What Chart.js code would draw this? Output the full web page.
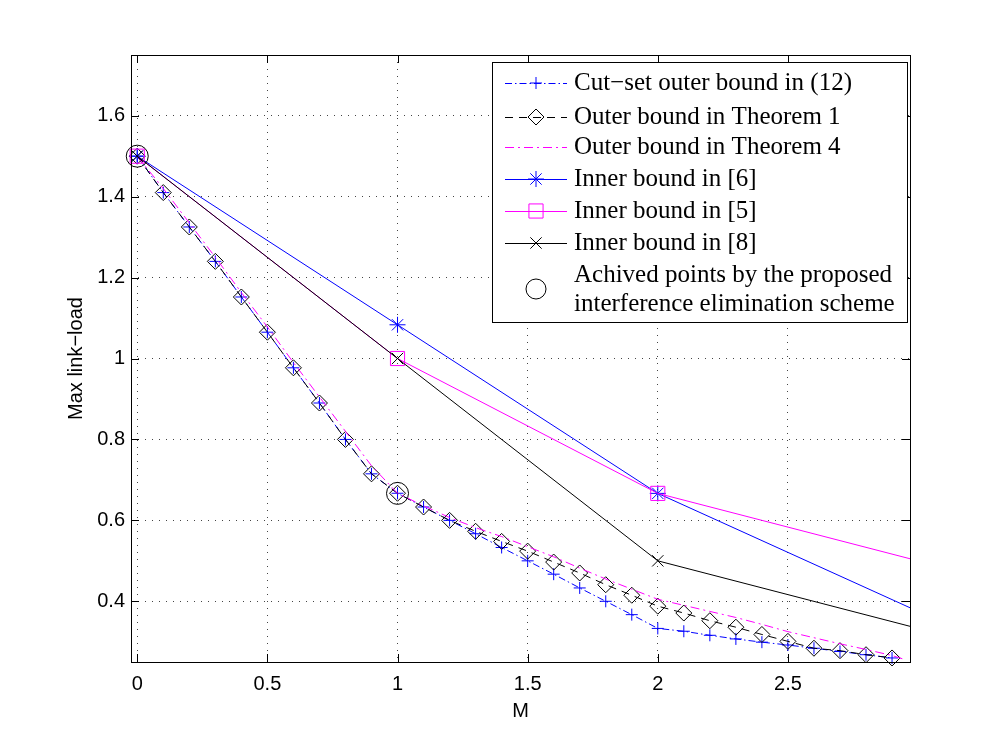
<!DOCTYPE html>
<html>
<head>
<meta charset="utf-8">
<script src="https://cdn.jsdelivr.net/npm/chart.js@4/dist/chart.umd.min.js"></script>
<style>
  html, body { margin: 0; padding: 0; background: #fff; }
  #wrap { width: 1005px; height: 744px; }
</style>
</head>
<body>
<div id="wrap"><canvas id="chart" width="1005" height="744"></canvas></div>
<script>
// values
var mFine = [0, 0.1, 0.2, 0.3, 0.4, 0.5, 0.6, 0.7, 0.8, 0.9, 1.0, 1.1, 1.2, 1.3, 1.4,
             1.5, 1.6, 1.7, 1.8, 1.9, 2.0, 2.1, 2.2, 2.3, 2.4, 2.5, 2.6, 2.7, 2.8, 2.9];
var cutSet = [1.5, 1.41, 1.325, 1.24, 1.152, 1.065, 0.977, 0.89, 0.80, 0.715, 0.667, 0.633, 0.600, 0.567, 0.533,
              0.500, 0.467, 0.433, 0.400, 0.367, 0.333, 0.326, 0.316, 0.307, 0.299, 0.292, 0.284, 0.276, 0.268, 0.260];
var theorem1 = [1.5, 1.41, 1.325, 1.24, 1.152, 1.065, 0.977, 0.89, 0.80, 0.715, 0.667, 0.633, 0.600, 0.573, 0.548,
                0.524, 0.497, 0.470, 0.441, 0.415, 0.388, 0.371, 0.352, 0.336, 0.318, 0.301, 0.284, 0.278, 0.268, 0.260];
var mThm4 = [0, 0.1, 0.2, 0.3, 0.4, 0.5, 0.6, 0.7, 0.8, 0.9, 1.0, 1.1, 1.2, 1.3, 1.4,
             1.5, 1.6, 1.7, 1.8, 1.9, 2.0, 2.1, 2.2, 2.3, 2.4, 2.5, 2.6, 2.7, 2.8, 2.9, 2.95];
var theorem4 = [1.5, 1.42, 1.335, 1.25, 1.163, 1.078, 0.99, 0.905, 0.82, 0.735, 0.667, 0.636, 0.607, 0.582, 0.560,
                0.535, 0.510, 0.482, 0.455, 0.430, 0.405, 0.390, 0.375, 0.360, 0.343, 0.325, 0.310, 0.295, 0.281, 0.266, 0.256];
var mCoarse = [0, 1, 2, 3];
var inner6 = [1.5, 1.0833, 0.6667, 0.375];
var inner5 = [1.5, 1.0, 0.6667, 0.5];
var inner8 = [1.5, 1.0, 0.5, 0.333];
var mAchieved = [0, 1];
var achieved = [1.5, 0.6667];

var xTicks = [0, 0.5, 1, 1.5, 2, 2.5];
var yTicks = [0.4, 0.6, 0.8, 1, 1.2, 1.4, 1.6];

var labels = ['Cut\u2212set outer bound in (12)', 'Outer bound in Theorem 1', 'Outer bound in Theorem 4',
              'Inner bound in [6]', 'Inner bound in [5]', 'Inner bound in [8]',
              'Achived points by the proposed', 'interference elimination scheme'];

function pts(xs, ys) {
    return xs.map(function(x, i) { return {x: x, y: ys[i]}; });
}

var BLUE = '#0000ff', MAG = '#ff00ff', BLACK = '#000000';
var tickFont = {family: "'Liberation Sans Narrow', 'Liberation Sans', Arial, sans-serif", size: 20};
var clipR = {left: 20, top: 20, right: 0, bottom: 20};

var colors = [BLUE, BLACK, MAG, BLUE, MAG, BLACK, BLACK];
var dashes = [[7, 3, 1.5, 3], [8, 6], [9, 4, 2, 4], [], [], [], []];
var styles = ['cross', 'rectRot', 'circle', 'star', 'rect', 'crossRot', 'circle'];
var radii = [6, 8, 0, 8, 10, 8, 11];

var sets = [
    {data: pts(mFine, cutSet), order: 7},
    {data: pts(mFine, theorem1), order: 6},
    {data: pts(mThm4, theorem4), order: 5},
    {data: pts(mCoarse, inner6), order: 4},
    {data: pts(mCoarse, inner5), order: 3},
    {data: pts(mCoarse, inner8), order: 2},
    {data: pts(mAchieved, achieved), showLine: false, order: 1}
];
sets.forEach(function(s, i) {
    s.borderColor = colors[i];
    s.borderDash = dashes[i];
    s.pointStyle = styles[i];
    s.pointRadius = radii[i];
    s.pointHoverRadius = radii[i];
    s.pointBorderColor = colors[i];
    s.pointBackgroundColor = 'rgba(0,0,0,0)';
    s.backgroundColor = 'rgba(0,0,0,0)';
    s.borderWidth = 1;
    s.pointBorderWidth = 1;
    if (s.showLine === undefined) s.showLine = true;
    s.tension = 0;
    s.clip = clipR;
});

function marker(ctx, style, x, y, r, color) {
    ctx.save();
    ctx.strokeStyle = color;
    ctx.lineWidth = 1;
    ctx.setLineDash([]);
    ctx.beginPath();
    var d = r * Math.SQRT1_2;
    if (style === 'cross' || style === 'star') {
        ctx.moveTo(x - r, y); ctx.lineTo(x + r, y);
        ctx.moveTo(x, y - r); ctx.lineTo(x, y + r);
    }
    if (style === 'crossRot' || style === 'star') {
        ctx.moveTo(x - d, y - d); ctx.lineTo(x + d, y + d);
        ctx.moveTo(x - d, y + d); ctx.lineTo(x + d, y - d);
    }
    if (style === 'rectRot') {
        ctx.moveTo(x, y - r); ctx.lineTo(x + r, y); ctx.lineTo(x, y + r); ctx.lineTo(x - r, y); ctx.closePath();
    }
    if (style === 'rect') ctx.rect(x - d, y - d, 2 * d, 2 * d);
    if (style === 'circle') ctx.arc(x, y, r, 0, Math.PI * 2);
    ctx.stroke();
    ctx.restore();
}

var boxPlugin = {
    id: 'box',
    afterDraw: function(chart) {
        var ctx = chart.ctx, a = chart.chartArea;
        var xs = chart.scales.x, ys = chart.scales.y;
        ctx.save();
        ctx.strokeStyle = '#000';
        ctx.lineWidth = 1;
        ctx.setLineDash([]);
        ctx.strokeRect(Math.round(a.left) + 0.5, Math.round(a.top) + 0.5,
                       Math.round(a.right - a.left), Math.round(a.bottom - a.top));
        ctx.beginPath();
        xTicks.forEach(function(v) {
            var px = Math.round(xs.getPixelForValue(v)) + 0.5;
            ctx.moveTo(px, a.bottom); ctx.lineTo(px, a.bottom - 8);
            ctx.moveTo(px, a.top); ctx.lineTo(px, a.top + 8);
        });
        yTicks.forEach(function(v) {
            var py = Math.round(ys.getPixelForValue(v)) + 0.5;
            ctx.moveTo(a.left, py); ctx.lineTo(a.left + 8, py);
            ctx.moveTo(a.right, py); ctx.lineTo(a.right - 8, py);
        });
        ctx.stroke();

        // legend box
        var L = 492, T = 62, W = 415, H = 260;
        ctx.fillStyle = '#fff';
        ctx.fillRect(L, T, W, H);
        ctx.strokeStyle = '#000';
        ctx.strokeRect(L + 0.5, T + 0.5, W, H);
        var rows = [83, 117, 147, 179, 211, 243];
        ctx.font = "25px 'Liberation Serif', 'Times New Roman', serif";
        ctx.textBaseline = 'middle';
        ctx.fillStyle = '#000';
        for (var i = 0; i < 6; i++) {
            ctx.save();
            ctx.strokeStyle = colors[i];
            ctx.lineWidth = 1;
            ctx.setLineDash(dashes[i]);
            ctx.beginPath();
            ctx.moveTo(505, rows[i] + 0.5);
            ctx.lineTo(567, rows[i] + 0.5);
            ctx.stroke();
            ctx.restore();
            if (radii[i] > 0) marker(ctx, styles[i], 536, rows[i], radii[i], colors[i]);
            ctx.fillText(labels[i], 574, rows[i]);
        }
        marker(ctx, 'circle', 536, 289, 10, BLACK);
        ctx.fillText(labels[6], 574, 275);
        ctx.fillText(labels[7], 574, 304);
        ctx.restore();
    }
};

function fmt(v) {
    return String(+Number(v).toFixed(2));
}

function drawChart() {
    var ctx = document.getElementById('chart');
    new Chart(ctx, {
        type: 'scatter',
        data: {datasets: sets},
        options: {
            responsive: false,
            animation: false,
            events: [],
            layout: {padding: {top: 55, right: 95, left: 0, bottom: 0}},
            plugins: {legend: {display: false}, tooltip: {enabled: false}},
            scales: {
                x: {
                    type: 'linear', min: -0.024, max: 2.969,
                    afterBuildTicks: function(s) { s.ticks = xTicks.map(function(v) { return {value: v}; }); },
                    afterFit: function(s) { s.height = 82; },
                    grid: {color: '#444', lineWidth: 1, drawTicks: false},
                    border: {display: false, dash: [1, 6]},
                    ticks: {color: '#000', font: tickFont, padding: 10, maxRotation: 0, autoSkip: false, callback: fmt},
                    title: {display: true, text: 'M', color: '#000', font: tickFont, padding: {top: 21, bottom: 21}}
                },
                y: {
                    type: 'linear', min: 0.25, max: 1.75,
                    afterBuildTicks: function(s) { s.ticks = yTicks.map(function(v) { return {value: v}; }); },
                    afterFit: function(s) { s.width = 131; },
                    grid: {color: '#444', lineWidth: 1, drawTicks: false},
                    border: {display: false, dash: [1, 6]},
                    ticks: {color: '#000', font: tickFont, padding: 6, autoSkip: false, callback: fmt},
                    title: {display: true, text: 'Max link\u2212load', color: '#000', font: tickFont, padding: {top: 64, bottom: 64}}
                }
            }
        },
        plugins: [boxPlugin]
    });
}

drawChart();
</script>
</body>
</html>
